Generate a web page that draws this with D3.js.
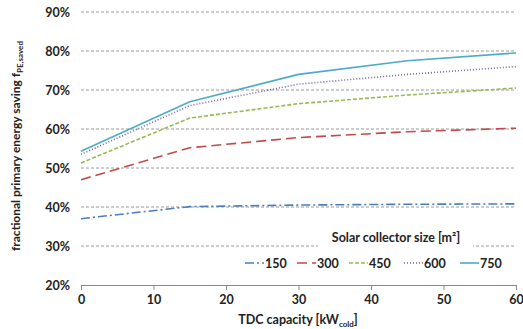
<!DOCTYPE html>
<html><head><meta charset="utf-8">
<script src="https://cdn.jsdelivr.net/npm/d3@7"></script>
<style>body{margin:0;background:#fff}svg{display:block}text{font-family:Lato,"Open Sans",sans-serif;font-weight:bold;fill:#222}</style>
</head><body>
<script>
const xValues = [0, 15, 30, 45, 60];
const seriesNames = ["150", "300", "450", "600", "750"];
const s150 = [37.0, 40.1, 40.5, 40.7, 40.8];
const s300 = [47.0, 55.2, 57.8, 59.3, 60.2];
const s450 = [51.3, 62.8, 66.5, 68.7, 70.5];
const s600 = [53.5, 66.0, 71.5, 74.0, 76.0];
const s750 = [54.3, 67.0, 74.0, 77.5, 79.5];
const yTicks = [20, 30, 40, 50, 60, 70, 80, 90];
const xTicks = [0, 10, 20, 30, 40, 50, 60];
const colors = ["#4a7ebb", "#be4b48", "#98b954", "#7d60a0", "#4bacc6"];
const dashes = ["9,3,2,3", "10,5", "4,2", "1,2", null];
const allSeries = [s150, s300, s450, s600, s750];

const W = 523, H = 329;
const svg = d3.select("body").append("svg").attr("width", W).attr("height", H);
const x = d3.scaleLinear().domain([0, 60]).range([81, 516]);
const y = d3.scaleLinear().domain([20, 90]).range([285, 12]);

// gridlines
svg.append("g").selectAll("line").data(yTicks.filter(d => d > 20)).join("line")
  .attr("x1", x(0)).attr("x2", x(60)).attr("y1", d => y(d)).attr("y2", d => y(d))
  .attr("stroke", "#9a9a9a").attr("stroke-width", 1).attr("stroke-dasharray", "3,2");

// x axis
const xa = svg.append("g").attr("transform", `translate(0,${y(20)})`)
  .call(d3.axisBottom(x).tickValues(xTicks).tickSize(5).tickPadding(5));
xa.select(".domain").attr("stroke", "#8a8a8a");
xa.selectAll(".tick line").attr("stroke", "#8a8a8a");
xa.selectAll("text").style("font-size", "12.5px").attr("fill", "#222");

// y axis labels
const ya = svg.append("g").attr("transform", `translate(${x(0)},0)`)
  .call(d3.axisLeft(y).tickValues(yTicks).tickSize(0).tickPadding(11).tickFormat(d => d + "%"));
ya.select(".domain").remove();
ya.selectAll("text").style("font-size", "12.5px").attr("fill", "#222");

// lines
const line = d3.line().x((d, i) => x(xValues[i])).y(d => y(d));
allSeries.forEach((s, i) => {
  svg.append("path").datum(s).attr("d", line).attr("fill", "none")
    .attr("stroke", colors[i]).attr("stroke-width", 1.6)
    .attr("stroke-dasharray", dashes[i]);
});

// legend
svg.append("rect").attr("x", 318).attr("y", 226).attr("width", 155).attr("height", 24).attr("fill", "#fff");
svg.append("text").attr("x", 396).attr("y", 242).attr("text-anchor", "middle")
  .style("font-size", "12.5px").text("Solar collector size [m²]");
const legX = [245, 297, 349, 404, 460];
seriesNames.forEach((n, i) => {
  const g = svg.append("g");
  g.append("line").attr("x1", legX[i]).attr("x2", legX[i] + 19).attr("y1", 263).attr("y2", 263)
    .attr("stroke", colors[i]).attr("stroke-width", 1.6).attr("stroke-dasharray", dashes[i]);
  g.append("text").attr("x", legX[i] + 20).attr("y", 267.5).style("font-size", "12.5px").text(n);
});

// axis titles
const xt = svg.append("text").attr("x", 298).attr("y", 324).attr("text-anchor", "middle").style("font-size", "12.5px");
xt.append("tspan").text("TDC capacity [kW");
xt.append("tspan").attr("dy", 3).style("font-size", "8px").text("cold");
xt.append("tspan").attr("dy", -3).text("]");

const yt = svg.append("text").attr("transform", "translate(20,146) rotate(-90)").attr("text-anchor", "middle").style("font-size", "12px");
yt.append("tspan").text("fractional primary energy saving f");
yt.append("tspan").attr("dy", 3).style("font-size", "8px").text("PE,saved");
</script>
</body></html>
